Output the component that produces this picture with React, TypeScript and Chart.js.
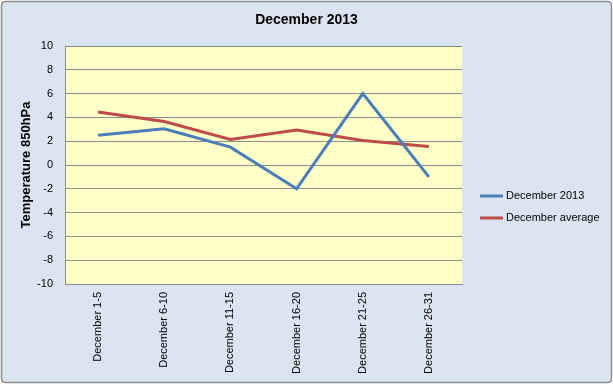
import React, { useEffect, useRef } from "react";
import { Chart, registerables } from "chart.js";

Chart.register(...registerables);

const TITLE = "December 2013";
const Y_TITLE = "Temperature 850hPa";
const categories = [
  "December 1-5",
  "December 6-10",
  "December 11-15",
  "December 16-20",
  "December 21-25",
  "December 26-31",
];
const seriesNames = ["December 2013", "December average"];
const dec2013 = [2.5, 3.05, 1.5, -2.0, 6.0, -1.0];
const decAverage = [4.45, 3.65, 2.15, 2.95, 2.05, 1.55];
const yMin = -10;
const yMax = 10;
const yStep = 2;

const FONT = "'Liberation Sans', Arial, sans-serif";

const framePlugin = {
  id: "frame",
  beforeDraw(chart: any) {
    const { ctx, width, height, chartArea } = chart;
    ctx.save();
    ctx.fillStyle = "#ffffff";
    ctx.fillRect(0, 0, width, height);
    const r = 4;
    const x = 1.5, y = 1.5, w = width - 3, h = height - 3;
    ctx.beginPath();
    ctx.moveTo(x + r, y);
    ctx.lineTo(x + w - r, y);
    ctx.quadraticCurveTo(x + w, y, x + w, y + r);
    ctx.lineTo(x + w, y + h - r);
    ctx.quadraticCurveTo(x + w, y + h, x + w - r, y + h);
    ctx.lineTo(x + r, y + h);
    ctx.quadraticCurveTo(x, y + h, x, y + h - r);
    ctx.lineTo(x, y + r);
    ctx.quadraticCurveTo(x, y, x + r, y);
    ctx.closePath();
    ctx.fillStyle = "#dbe5f1";
    ctx.fill();
    ctx.lineWidth = 1.5;
    ctx.strokeStyle = "#8f8f8f";
    ctx.stroke();
    ctx.fillStyle = "#ffffc8";
    ctx.fillRect(chartArea.left, chartArea.top, chartArea.right - chartArea.left, chartArea.bottom - chartArea.top);
    ctx.restore();
  },
  afterDraw(chart: any) {
    const { ctx } = chart;
    ctx.save();
    ctx.fillStyle = "#000000";
    ctx.font = `bold 14px ${FONT}`;
    ctx.textAlign = "center";
    ctx.textBaseline = "middle";
    ctx.fillText(TITLE, 306.5, 20.5);
    // legend
    ctx.font = `11px ${FONT}`;
    ctx.textAlign = "left";
    chart.data.datasets.forEach((ds: any, i: number) => {
      const yy = 196 + i * 22;
      ctx.strokeStyle = ds.borderColor;
      ctx.lineWidth = 3;
      ctx.beginPath();
      ctx.moveTo(480, yy);
      ctx.lineTo(503, yy);
      ctx.stroke();
      ctx.fillStyle = "#000000";
      ctx.fillText(ds.label, 506, yy);
    });
    ctx.restore();
  },
};

export default function App() {
  const ref = useRef<HTMLCanvasElement>(null);
  useEffect(() => {
    const canvas = ref.current!;
    const chart = new Chart(canvas, {
      type: "line",
      data: {
        labels: categories,
        datasets: [
          {
            label: seriesNames[0],
            data: dec2013,
            borderColor: "#4a7ebb",
            backgroundColor: "#4a7ebb",
            borderWidth: 3,
            pointRadius: 0,
            tension: 0,
          },
          {
            label: seriesNames[1],
            data: decAverage,
            borderColor: "#be4b48",
            backgroundColor: "#be4b48",
            borderWidth: 3,
            pointRadius: 0,
            tension: 0,
          },
        ],
      },
      options: {
        responsive: false,
        animation: false,
        devicePixelRatio: 1,
        layout: { padding: { left: 0, top: 46, right: 151, bottom: 0 } },
        plugins: {
          legend: { display: false },
          title: { display: false },
          tooltip: { enabled: false },
        },
        scales: {
          x: {
            offset: true,
            grid: { display: true, color: "rgba(0,0,0,0)", drawOnChartArea: false, drawTicks: false },
            border: { display: true, color: "#8c8c8c", width: 1 },
            ticks: {
              minRotation: 90,
              maxRotation: 90,
              autoSkip: false,
              padding: 8,
              color: "#000000",
              font: { family: FONT, size: 11 },
            },
            afterFit(scale: any) {
              scale.height = 100;
            },
          },
          y: {
            min: yMin,
            max: yMax,
            grid: { color: "#8c8c8c", lineWidth: 1, drawTicks: false },
            border: { display: true, color: "#8c8c8c", width: 1 },
            ticks: {
              stepSize: yStep,
              padding: 12,
              color: "#000000",
              font: { family: FONT, size: 11 },
            },
            title: {
              display: true,
              text: Y_TITLE,
              color: "#000000",
              font: { family: FONT, size: 13, weight: "bold" },
              padding: { top: 19, bottom: 0 },
            },
            afterFit(scale: any) {
              scale.width = 65;
            },
          },
        },
      },
      plugins: [framePlugin],
    });
    return () => chart.destroy();
  }, []);
  return (
    <div style={{ position: "absolute", left: 0, top: 0, width: 613, height: 384 }}>
      <canvas ref={ref} width={613} height={384} style={{ display: "block", width: 613, height: 384 }} />
    </div>
  );
}
